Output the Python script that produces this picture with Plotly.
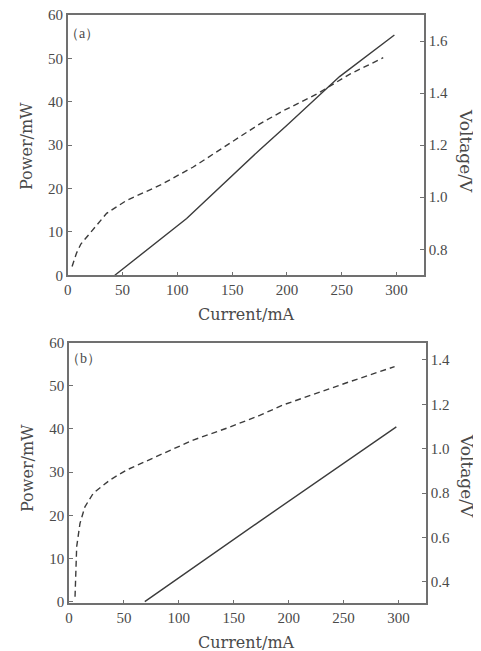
import plotly.graph_objects as go

# Panel (a): power (left axis) and voltage (right axis) vs current
a_power_current = [43, 108.5, 175, 200, 248, 298]
a_power = [0, 13.1, 28.9, 34.6, 45.8, 55.4]
a_volt_current = [4, 8, 12, 20.3, 35.5, 53.8, 84.2, 114.5, 145, 175.3, 196.6, 227, 257.4, 287.8]
a_volt = [0.734, 0.785, 0.82, 0.861, 0.938, 0.988, 1.046, 1.116, 1.199, 1.282, 1.332, 1.396, 1.473, 1.536]

# Panel (b)
b_power_current = [69, 173.6, 298]
b_power = [0, 18.6, 40.5]
b_volt_current = [5.5, 7, 10, 14.5, 22.1, 37.3, 52.5, 82.7, 113, 143.4, 173.6, 194.8, 225.2, 255.5, 296.4]
b_volt = [0.332, 0.558, 0.663, 0.738, 0.799, 0.859, 0.904, 0.971, 1.039, 1.092, 1.15, 1.197, 1.25, 1.302, 1.37]

x_ticks = [0, 50, 100, 150, 200, 250, 300]
power_ticks = [0, 10, 20, 30, 40, 50, 60]
a_volt_ticks = [0.8, 1.0, 1.2, 1.4, 1.6]
b_volt_ticks = [0.4, 0.6, 0.8, 1.0, 1.2, 1.4]

# page body has an 8px default margin; figure fills the rest of the 481x651 window
OFF = 8
W, H = 481 - OFF, 651 - OFF
LINE = "#3c3c3c"
AX = "#707070"
TXT = "#4a4a4a"
FONT = "Liberation Serif"
TFONT = "DejaVu Serif"

def fx(sx):
    return (sx - OFF) / W

def fy(sy):
    return 1 - (sy - OFF) / H

fig = go.Figure()
fig.add_trace(go.Scatter(x=a_power_current, y=a_power, mode="lines",
                         line=dict(color=LINE, width=1.4), xaxis="x", yaxis="y"))
fig.add_trace(go.Scatter(x=a_volt_current, y=a_volt, mode="lines",
                         line=dict(color=LINE, width=1.4, dash="6px,4px"), xaxis="x", yaxis="y2"))
fig.add_trace(go.Scatter(x=b_power_current, y=b_power, mode="lines",
                         line=dict(color=LINE, width=1.4), xaxis="x2", yaxis="y3"))
fig.add_trace(go.Scatter(x=b_volt_current, y=b_volt, mode="lines",
                         line=dict(color=LINE, width=1.4, dash="6px,4px"), xaxis="x2", yaxis="y4"))

xdom_a = [fx(67.7), fx(424)]
xdom_b = [fx(69), fx(426)]
ydom_a = [fy(275.3), fy(15)]
ydom_b = [fy(603.3), fy(342.7)]

common_axis = dict(showgrid=False, zeroline=False, showline=True, linecolor=AX, linewidth=1.6,
                   ticks="inside", ticklen=4, tickwidth=1.2, tickcolor=AX, automargin=False,
                   ticklabeloverflow="allow",
                   tickfont=dict(family=FONT, size=15, color=TXT))

fig.update_layout(
    width=W, height=H, margin=dict(l=0, r=0, t=0, b=0, pad=0),
    paper_bgcolor="white", plot_bgcolor="white", showlegend=False,
    font=dict(family=FONT, color=TXT),
    xaxis=dict(common_axis, domain=xdom_a, anchor="y", range=[0, 325], tickvals=x_ticks, mirror=True),
    yaxis=dict(common_axis, domain=ydom_a, anchor="x", range=[0, 60], tickvals=power_ticks),
    yaxis2=dict(common_axis, overlaying="y", side="right", anchor="x", range=[0.7, 1.7],
                tickvals=a_volt_ticks, tickformat=".1f"),
    xaxis2=dict(common_axis, domain=xdom_b, anchor="y3", range=[0, 325], tickvals=x_ticks, mirror=True),
    yaxis3=dict(common_axis, domain=ydom_b, anchor="x2", range=[-0.4, 60], tickvals=power_ticks),
    yaxis4=dict(common_axis, overlaying="y3", side="right", anchor="x2", range=[0.3026, 1.478],
                tickvals=b_volt_ticks, tickformat=".1f"),
)

def label(text, sx, sy, angle=0, size=16, family=TFONT, xanchor="center"):
    fig.add_annotation(text=text, xref="paper", yref="paper", x=fx(sx), y=fy(sy),
                       xanchor=xanchor, yanchor="middle", showarrow=False, textangle=angle,
                       font=dict(family=family, size=size, color=TXT))

label("Current/mA", 246, 314)
label("Current/mA", 247, 642)
label("Power/mW", 26, 146, angle=-90)
label("Power/mW", 27, 468, angle=-90)
label("Voltage/V", 466, 151, angle=90, size=17)
label("Voltage/V", 467, 476, angle=90, size=17)
label("（a）", 63, 33, size=14, family=FONT, xanchor="left")
label("（b）", 64, 358, size=14, family=FONT, xanchor="left")

fig.write_html("out.html")
